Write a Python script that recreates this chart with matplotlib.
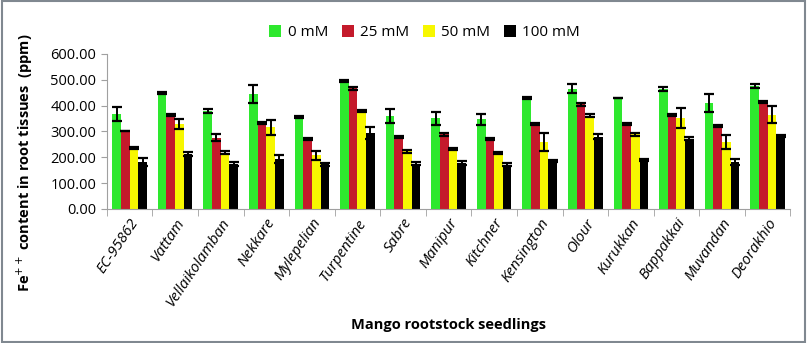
import matplotlib.pyplot as plt
from matplotlib.patches import Rectangle
import numpy as np

# -----------------------------------------
# Datos
# -----------------------------------------
seedlings = ["EC-95862", "Vattam", "Vellaikolamban", "Nekkare", "Mylepelian",
             "Turpentine", "Sabre", "Manipur", "Kitchner", "Kensington",
             "Olour", "Kurukkan", "Bappakkai", "Muvandan", "Deorakhio"]
series_labels = ["0 mM", "25 mM", "50 mM", "100 mM"]

fe_0 = [366, 449, 379, 444, 356, 496, 359, 350, 346, 430, 465, 430, 463, 410, 476]
fe_25 = [300, 364, 276, 332, 270, 466, 279, 288, 272, 327, 404, 330, 365, 320, 412]
fe_50 = [235, 328, 218, 315, 207, 378, 223, 230, 217, 258, 360, 288, 352, 259, 365]
fe_100 = [182, 214, 175, 193, 173, 294, 175, 178, 171, 185, 280, 190, 272, 182, 282]

err_0 = [27, 4, 6, 34, 5, 4, 27, 25, 23, 4, 18, 0, 7, 35, 8]
err_25 = [0, 4, 12, 4, 4, 7, 5, 4, 4, 4, 6, 4, 4, 4, 4]
err_50 = [4, 20, 6, 28, 18, 4, 6, 4, 4, 34, 6, 5, 39, 26, 32]
err_100 = [15, 8, 8, 14, 6, 23, 6, 7, 5, 5, 8, 4, 5, 13, 5]

colores = ["#2EE82E", "#C41A2B", "#F7F700", "#000000"]

# -----------------------------------------
# Figura
# -----------------------------------------
plt.rcParams["font.family"] = ["Open Sans", "DejaVu Sans"]

fig = plt.figure(figsize=(8.09, 3.43), dpi=100)
ax = fig.add_axes([0.132, 0.391, 0.845, 0.452])

x = np.arange(len(seedlings))
ancho = 0.19
valores = [fe_0, fe_25, fe_50, fe_100]
errores = [err_0, err_25, err_50, err_100]

for k in range(4):
    pos = x + (k - 1.5) * ancho
    ax.bar(pos, valores[k], ancho, color=colores[k], label=series_labels[k], zorder=2)
    ax.errorbar(pos, valores[k], yerr=errores[k], fmt="none", ecolor="black",
                elinewidth=1.4, capsize=3.5, capthick=1.6, zorder=3)

ax.set_ylim(0, 600)
ax.set_xlim(-0.5, len(seedlings) - 0.5)
ax.set_yticks(np.arange(0, 601, 100))
ax.set_yticklabels([f"{v:.2f}" for v in range(0, 601, 100)], fontsize=10.5)

ax.set_xticks(x)
ax.set_xticklabels(seedlings, rotation=56, ha="right", rotation_mode="anchor",
                   style="italic", fontsize=10.8)
ax.tick_params(axis="x", length=0, pad=5)
ax.set_xticks(np.arange(-0.5, len(seedlings), 1), minor=True)
ax.tick_params(axis="x", which="minor", length=5, color="#A0A0A0")
ax.tick_params(axis="y", length=4, color="#A0A0A0")

for lado in ["top", "right"]:
    ax.spines[lado].set_visible(False)
ax.spines["left"].set_color("#A0A0A0")
ax.spines["bottom"].set_color("#A0A0A0")

ax.set_xlabel("Mango rootstock seedlings", fontweight="bold", fontsize=10.5, labelpad=6)
ax.set_ylabel("Fe$^{++}$ content in root tissues  (ppm)", fontweight="bold",
              fontsize=10.5, labelpad=6)
ax.yaxis.set_label_coords(-0.105, 0.3)

ax.legend(loc="lower center", bbox_to_anchor=(0.465, 1.0), ncol=4, frameon=False,
          fontsize=11, handlelength=0.8, handleheight=0.8, handletextpad=0.4,
          columnspacing=0.9)

fig.patches.append(Rectangle((0.002, 0.003), 0.993, 0.994, transform=fig.transFigure,
                             fill=False, edgecolor="#808890", linewidth=1.5))

plt.savefig("out.png", dpi=100)
